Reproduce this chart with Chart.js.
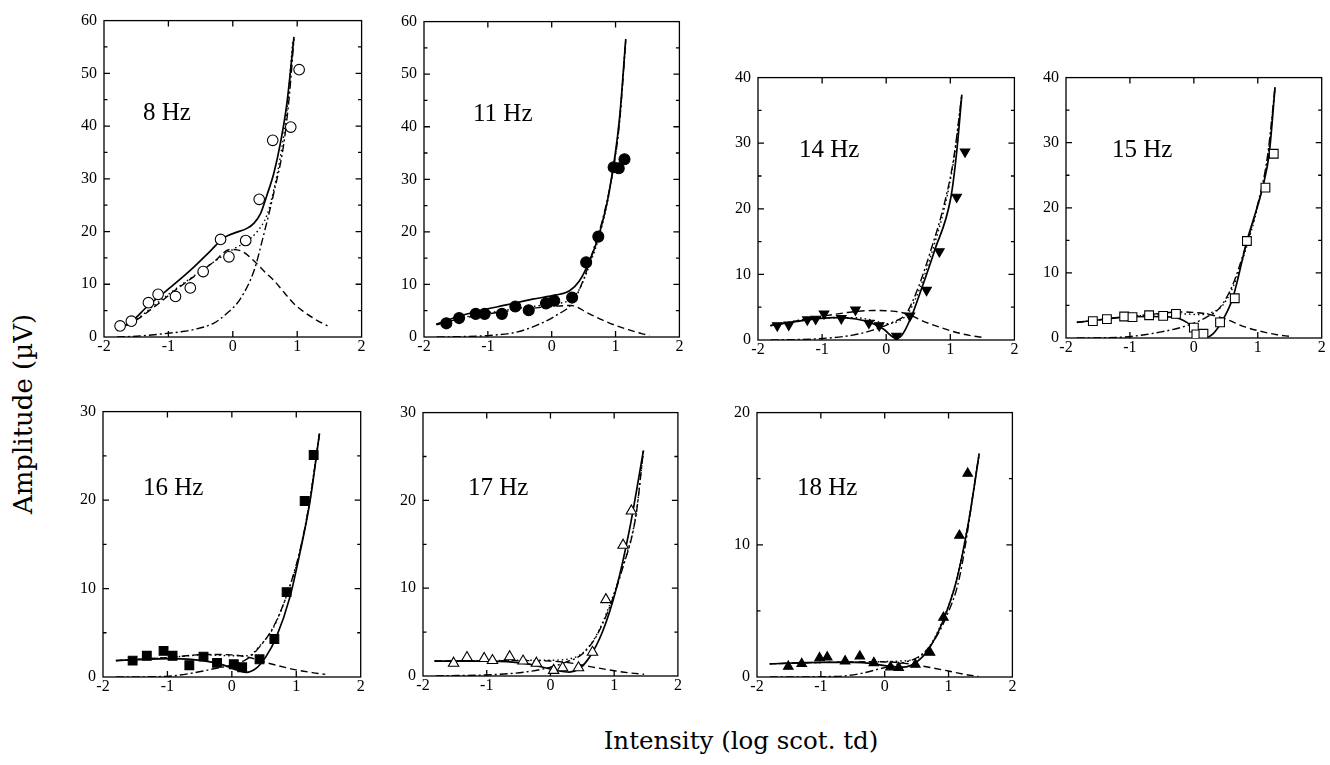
<!DOCTYPE html>
<html>
<head>
<meta charset="utf-8">
<script src="https://cdn.jsdelivr.net/npm/chart.js@4.4.1/dist/chart.umd.min.js"></script>
<style>
  body { margin: 0; width: 1330px; height: 765px; background: #fff; position: relative; overflow: hidden; }
  canvas { position: absolute; }
  .hz { position: absolute; font-family: "Liberation Serif", serif; font-size: 25px; line-height: 25px; white-space: nowrap; color: #000; }
  .axis-title { position: absolute; font-family: "DejaVu Serif", serif; line-height: 1; white-space: nowrap; color: #000; }
</style>
</head>
<body>
<div class="axis-title" id="ytitle" style="font-size:26px; left:23px; top:414px; transform:translate(-50%,-50%) rotate(-90deg);">Amplitude (µV)</div>
<div class="axis-title" id="xtitle" style="font-size:24.5px; left:741px; top:729px; transform:translateX(-50%);">Intensity (log scot. td)</div>

<script>
// x tick labels shared by all panels
const xTicks = [-2, -1, 0, 1, 2];

// ---- 8 Hz ----
const hz8Points = [[-1.75, 2.1], [-1.575, 3.0], [-1.31, 6.5], [-1.16, 8.1], [-0.89, 7.7], [-0.66, 9.3], [-0.46, 12.4], [-0.19, 18.5], [-0.06, 15.2], [0.2, 18.3], [0.41, 26.1], [0.62, 37.3], [0.9, 39.8], [1.03, 50.7]];
const hz8Solid = [[-1.8, 1.2], [-1.575, 2.9], [-1.31, 6.0], [-1.12, 7.9], [-0.89, 10.2], [-0.61, 13.2], [-0.35, 16.3], [-0.14, 18.8], [0.02, 19.7], [0.22, 20.6], [0.33, 21.6], [0.43, 23.4], [0.53, 26.9], [0.64, 31.2], [0.74, 36.8], [0.84, 44.3], [0.95, 56.9]];
const hz8Dotted = [[-1.8, 1.4], [-1.5, 3.3], [-1.2, 6.2], [-0.9, 9.0], [-0.6, 11.6], [-0.3, 14.2], [0.0, 16.6], [0.2, 18.0], [0.38, 20.0], [0.53, 23.1], [0.64, 28.1], [0.74, 34.3], [0.84, 43.0], [0.93, 56.0]];
const hz8Dashed = [[-1.8, 1.3], [-1.5, 3.2], [-1.2, 5.9], [-0.9, 8.8], [-0.6, 11.5], [-0.3, 14.2], [-0.04, 16.6], [0.15, 16.2], [0.33, 14.4], [0.5, 12.3], [0.64, 10.7], [0.8, 8.4], [0.95, 6.3], [1.1, 4.8], [1.26, 3.5], [1.47, 2.1]];
const hz8DashDot = [[-1.8, 0.0], [-1.5, 0.15], [-1.12, 0.56], [-0.8, 1.0], [-0.61, 1.4], [-0.3, 2.6], [-0.09, 4.5], [0.12, 7.3], [0.33, 12.6], [0.48, 19.4], [0.64, 27.5], [0.79, 36.5], [0.88, 46.0], [0.95, 56.5]];

// ---- 11 Hz ----
const hz11Points = [[-1.65, 2.6], [-1.45, 3.6], [-1.19, 4.4], [-1.05, 4.4], [-0.78, 4.4], [-0.57, 5.8], [-0.36, 5.1], [-0.09, 6.4], [0.04, 6.9], [0.32, 7.5], [0.54, 14.2], [0.73, 19.1], [0.97, 32.3], [1.05, 32.1], [1.14, 33.8]];
const hz11Solid = [[-1.81, 2.4], [-1.49, 3.8], [-1.13, 5.0], [-0.71, 6.1], [-0.3, 7.2], [0.07, 8.0], [0.28, 8.8], [0.43, 10.6], [0.59, 14.4], [0.74, 19.4], [0.9, 27.6], [1.06, 41.3], [1.16, 56.7]];
const hz11Dotted = [[-1.8, 2.4], [-1.5, 3.4], [-1.0, 4.6], [-0.5, 5.5], [0.0, 6.3], [0.28, 7.0], [0.43, 9.0], [0.59, 13.6], [0.74, 19.0], [0.9, 27.4], [1.06, 41.0], [1.16, 56.5]];
const hz11Dashed = [[-1.8, 2.3], [-1.5, 3.3], [-1.0, 4.4], [-0.5, 5.2], [0.0, 5.8], [0.3, 6.0], [0.59, 4.4], [0.8, 3.2], [1.0, 2.2], [1.2, 1.4], [1.42, 0.6], [1.53, 0.3]];
const hz11DashDot = [[-1.8, 0.0], [-1.49, 0.05], [-0.97, 0.3], [-0.56, 0.9], [-0.24, 2.2], [0.07, 4.1], [0.33, 6.6], [0.5, 11.0], [0.65, 16.5], [0.8, 22.5], [0.95, 31.0], [1.06, 40.5], [1.16, 56.5]];

// ---- 14 Hz ----
const hz14Points = [[-1.7, 2.2], [-1.52, 2.3], [-1.23, 3.1], [-1.1, 3.2], [-0.97, 4.0], [-0.7, 3.3], [-0.48, 4.6], [-0.27, 2.6], [-0.11, 2.2], [0.16, 0.6], [0.37, 3.7], [0.63, 7.6], [0.83, 13.5], [1.1, 21.8], [1.23, 28.7]];
const hz14Solid = [[-1.81, 2.2], [-1.55, 2.6], [-1.19, 3.1], [-0.83, 3.4], [-0.47, 3.2], [-0.26, 2.7], [-0.05, 1.7], [0.16, 0.25], [0.25, 0.8], [0.39, 3.5], [0.54, 7.5], [0.75, 13.5], [1.01, 21.8], [1.1, 28.7], [1.18, 37.4]];
const hz14Dotted = [[-1.8, 2.2], [-1.0, 3.4], [-0.5, 3.4], [-0.2, 3.0], [0.0, 2.5], [0.2, 2.9], [0.35, 4.2], [0.52, 7.8], [0.72, 13.6], [0.92, 20.6], [1.06, 27.8], [1.18, 37.4]];
const hz14Dashed = [[-1.8, 2.2], [-1.4, 2.9], [-1.0, 3.6], [-0.6, 4.2], [-0.2, 4.5], [0.1, 4.4], [0.31, 4.0], [0.62, 2.7], [0.85, 1.9], [1.04, 1.3], [1.3, 0.7], [1.5, 0.4]];
const hz14DashDot = [[-1.8, 0.0], [-1.04, 0.2], [-0.52, 0.75], [-0.21, 1.5], [0.1, 2.7], [0.31, 4.0], [0.5, 8.0], [0.7, 13.8], [0.9, 20.5], [1.05, 27.5], [1.18, 37.4]];

// ---- 15 Hz ----
const hz15Points = [[-1.58, 2.6], [-1.36, 2.9], [-1.09, 3.3], [-0.96, 3.2], [-0.7, 3.5], [-0.48, 3.4], [-0.28, 3.7], [0.0, 1.6], [0.04, 0.55], [0.15, 0.65], [0.41, 2.4], [0.64, 6.1], [0.83, 14.9], [1.12, 23.1], [1.25, 28.3]];
const hz15Solid = [[-1.83, 2.4], [-1.46, 2.8], [-1.1, 3.2], [-0.69, 3.3], [-0.32, 3.2], [-0.11, 2.4], [0.04, 1.2], [0.2, 0.15], [0.3, 0.65], [0.46, 2.9], [0.61, 6.2], [0.83, 14.9], [1.08, 23.3], [1.18, 28.4], [1.27, 38.5]];
const hz15Dotted = [[-1.83, 2.4], [-1.0, 3.3], [-0.5, 3.6], [-0.2, 3.7], [0.1, 3.6], [0.3, 4.0], [0.45, 5.0], [0.62, 8.0], [0.8, 13.2], [1.0, 20.2], [1.16, 28.0], [1.27, 38.5]];
const hz15Dashed = [[-1.83, 2.4], [-1.4, 2.9], [-1.0, 3.3], [-0.5, 3.8], [-0.25, 4.0], [0.2, 3.7], [0.5, 2.9], [0.8, 1.7], [1.1, 0.9], [1.3, 0.5], [1.5, 0.25]];
const hz15DashDot = [[-1.83, 0.0], [-1.1, 0.15], [-0.53, 0.9], [-0.11, 1.9], [0.2, 3.2], [0.41, 4.7], [0.61, 8.2], [0.77, 12.8], [0.98, 19.8], [1.15, 27.8], [1.27, 38.5]];

// ---- 16 Hz ----
const hz16Points = [[-1.54, 1.85], [-1.32, 2.4], [-1.06, 2.96], [-0.92, 2.4], [-0.66, 1.33], [-0.44, 2.3], [-0.23, 1.6], [0.03, 1.44], [0.16, 1.1], [0.43, 2.0], [0.66, 4.3], [0.85, 9.6], [1.13, 19.9], [1.27, 25.1]];
const hz16Solid = [[-1.8, 1.85], [-1.38, 2.0], [-0.92, 2.07], [-0.45, 1.85], [-0.14, 1.37], [0.07, 0.8], [0.22, 0.52], [0.38, 1.0], [0.53, 2.3], [0.69, 4.5], [0.9, 9.0], [1.05, 13.8], [1.21, 19.7], [1.36, 27.5]];
const hz16Dotted = [[-1.8, 1.85], [-1.0, 2.2], [-0.4, 2.5], [0.0, 2.4], [0.25, 2.4], [0.43, 3.5], [0.64, 5.5], [0.85, 9.2], [1.05, 14.0], [1.2, 19.6], [1.36, 27.5]];
const hz16Dashed = [[-1.8, 1.85], [-1.0, 2.2], [-0.4, 2.55], [0.0, 2.5], [0.27, 2.2], [0.6, 1.5], [1.0, 0.8], [1.25, 0.5], [1.45, 0.3]];
const hz16DashDot = [[-1.8, 0.0], [-1.02, 0.07], [-0.61, 0.45], [-0.3, 0.9], [0.02, 1.4], [0.25, 2.1], [0.43, 3.4], [0.64, 5.6], [0.84, 9.0], [1.05, 14.1], [1.2, 19.5], [1.36, 27.5]];

// ---- 17 Hz ----
const hz17Points = [[-1.52, 1.46], [-1.31, 2.1], [-1.04, 2.0], [-0.91, 1.76], [-0.64, 2.2], [-0.43, 1.7], [-0.22, 1.46], [0.05, 0.64], [0.19, 0.94], [0.44, 0.94], [0.66, 2.7], [0.87, 8.7], [1.14, 14.9], [1.27, 18.8]];
const hz17Solid = [[-1.82, 1.7], [-0.95, 1.7], [-0.43, 1.46], [-0.12, 1.0], [0.09, 0.64], [0.3, 0.45], [0.45, 0.82], [0.61, 2.1], [0.82, 5.1], [1.02, 9.6], [1.23, 16.3], [1.46, 25.7]];
const hz17Dotted = [[-1.8, 1.7], [-1.0, 1.75], [-0.5, 1.8], [0.0, 1.8], [0.25, 1.9], [0.5, 2.6], [0.71, 4.5], [0.92, 7.9], [1.13, 12.4], [1.34, 18.3], [1.46, 25.7]];
const hz17Dashed = [[-1.82, 1.7], [-1.0, 1.75], [-0.5, 1.75], [0.0, 1.7], [0.3, 1.5], [0.6, 1.1], [1.0, 0.6], [1.25, 0.35], [1.47, 0.2]];
const hz17DashDot = [[-1.8, 0.0], [-0.79, 0.2], [-0.33, 0.52], [0.0, 1.0], [0.24, 1.57], [0.5, 2.5], [0.71, 4.4], [0.92, 7.7], [1.13, 12.2], [1.34, 18.2], [1.46, 25.7]];

// ---- 18 Hz ----
const hz18Points = [[-1.51, 0.8], [-1.3, 1.0], [-1.02, 1.44], [-0.9, 1.5], [-0.62, 1.2], [-0.39, 1.57], [-0.17, 1.07], [0.09, 0.75], [0.22, 0.7], [0.48, 0.94], [0.71, 1.86], [0.92, 4.5], [1.17, 10.7], [1.3, 15.4]];
const hz18Solid = [[-1.8, 1.0], [-1.01, 1.1], [-0.49, 1.1], [-0.18, 1.0], [0.08, 0.8], [0.29, 0.75], [0.49, 1.1], [0.7, 2.2], [0.91, 4.2], [1.12, 7.2], [1.32, 11.9], [1.48, 16.9]];
const hz18Dotted = [[-1.8, 1.0], [-1.0, 1.1], [-0.2, 1.15], [0.2, 1.2], [0.5, 1.4], [0.7, 2.3], [0.91, 4.3], [1.12, 7.3], [1.32, 12.0], [1.48, 16.9]];
const hz18Dashed = [[-1.8, 1.0], [-1.0, 1.1], [-0.2, 1.15], [0.2, 1.1], [0.5, 0.9], [1.0, 0.45], [1.25, 0.2], [1.47, 0.05]];
const hz18DashDot = [[-1.8, 0.0], [-0.75, 0.05], [-0.39, 0.25], [-0.08, 0.62], [0.23, 1.0], [0.55, 1.6], [0.75, 2.6], [0.96, 4.5], [1.17, 7.5], [1.48, 16.9]];

// marker looks
const markers = {
  openCircle: { pointStyle: 'circle', radius: 5.3, fill: '#fff', rotation: 0 },
  filledCircle: { pointStyle: 'circle', radius: 5.5, fill: '#000', rotation: 0 },
  downTriangle: { pointStyle: 'triangle', radius: 5.5, fill: '#000', rotation: 180 },
  openSquare: { pointStyle: 'rect', radius: 6.2, fill: '#fff', rotation: 0 },
  filledSquare: { pointStyle: 'rect', radius: 6.2, fill: '#000', rotation: 0 },
  openTriangle: { pointStyle: 'triangle', radius: 6, fill: '#fff', rotation: 0 },
  filledTriangle: { pointStyle: 'triangle', radius: 5.5, fill: '#000', rotation: 0 },
};

const panels = [
  { label: '8 Hz', yMax: 60, marker: 'openCircle', points: hz8Points, solid: hz8Solid, dotted: hz8Dotted, dashed: hz8Dashed, dashDot: hz8DashDot },
  { label: '11 Hz', yMax: 60, marker: 'filledCircle', points: hz11Points, solid: hz11Solid, dotted: hz11Dotted, dashed: hz11Dashed, dashDot: hz11DashDot },
  { label: '14 Hz', yMax: 40, marker: 'downTriangle', points: hz14Points, solid: hz14Solid, dotted: hz14Dotted, dashed: hz14Dashed, dashDot: hz14DashDot },
  { label: '15 Hz', yMax: 40, marker: 'openSquare', points: hz15Points, solid: hz15Solid, dotted: hz15Dotted, dashed: hz15Dashed, dashDot: hz15DashDot },
  { label: '16 Hz', yMax: 30, marker: 'filledSquare', points: hz16Points, solid: hz16Solid, dotted: hz16Dotted, dashed: hz16Dashed, dashDot: hz16DashDot },
  { label: '17 Hz', yMax: 30, marker: 'openTriangle', points: hz17Points, solid: hz17Solid, dotted: hz17Dotted, dashed: hz17Dashed, dashDot: hz17DashDot },
  { label: '18 Hz', yMax: 20, marker: 'filledTriangle', points: hz18Points, solid: hz18Solid, dotted: hz18Dotted, dashed: hz18Dashed, dashDot: hz18DashDot },
];

// plot boxes on the page: left, top, right, bottom; label left + baseline
const boxes = [
  { l: 104, t: 16, r: 362, b: 337, lx: 143, ly: 120 },
  { l: 424, t: 17, r: 680, b: 337, lx: 473, ly: 121 },
  { l: 758, t: 73, r: 1015, b: 340, lx: 799, ly: 157 },
  { l: 1066, t: 73, r: 1323, b: 338, lx: 1112, ly: 157 },
  { l: 103, t: 407, r: 362, b: 677, lx: 143, ly: 495 },
  { l: 423, t: 408, r: 679, b: 676, lx: 468, ly: 495 },
  { l: 757, t: 408, r: 1013, b: 677, lx: 797, ly: 495 },
];

const AX_W = 50, AX_H = 26, PAD_T = 12, PAD_R = 6;
const serif = "'Liberation Serif', 'Times New Roman', serif";

const toXY = (pairs) => pairs.map(([x, y]) => ({ x, y }));

// box around the plot with inward ticks on all four sides
const frame = {
  id: 'frame',
  beforeDatasetsDraw(chart) {
    const { ctx, chartArea: a } = chart;
    const x = chart.scales.x, y = chart.scales.y;
    ctx.save();
    ctx.strokeStyle = '#000';
    ctx.lineWidth = 1.3;
    ctx.strokeRect(a.left, a.top, a.right - a.left, a.bottom - a.top);
    ctx.beginPath();
    xTicks.slice(1, -1).forEach((v) => {
      const px = x.getPixelForValue(v);
      ctx.moveTo(px, a.bottom); ctx.lineTo(px, a.bottom - 6);
      ctx.moveTo(px, a.top); ctx.lineTo(px, a.top + 6);
    });
    for (let v = 5; v < y.max; v += 5) {
      const py = y.getPixelForValue(v);
      const len = v % 10 === 0 ? 6 : 3.5;
      ctx.moveTo(a.left, py); ctx.lineTo(a.left + len, py);
      ctx.moveTo(a.right, py); ctx.lineTo(a.right - len, py);
    }
    ctx.stroke();
    ctx.restore();
  },
};

function curve(data, dash, width) {
  return {
    data: toXY(data),
    showLine: true,
    borderColor: '#000',
    borderWidth: width,
    borderDash: dash,
    pointRadius: 0,
    cubicInterpolationMode: 'monotone',
    fill: false,
  };
}

panels.forEach((p, i) => {
  const box = boxes[i];
  const m = markers[p.marker];
  const canvas = document.createElement('canvas');
  const w = AX_W + (box.r - box.l) + PAD_R;
  const h = PAD_T + (box.b - box.t) + AX_H;
  canvas.width = w;
  canvas.height = h;
  canvas.style.left = (box.l - AX_W) + 'px';
  canvas.style.top = (box.t - PAD_T) + 'px';
  canvas.style.width = w + 'px';
  canvas.style.height = h + 'px';
  document.body.appendChild(canvas);

  const lbl = document.createElement('div');
  lbl.className = 'hz';
  lbl.textContent = p.label;
  lbl.style.left = box.lx + 'px';
  lbl.style.top = (box.ly - 21) + 'px';
  document.body.appendChild(lbl);

  new Chart(canvas.getContext('2d'), {
    type: 'scatter',
    data: {
      datasets: [
        {
          data: toXY(p.points),
          pointStyle: m.pointStyle,
          rotation: m.rotation,
          pointRadius: m.radius,
          pointBackgroundColor: m.fill,
          pointBorderColor: '#000',
          pointBorderWidth: 1.1,
        },
        curve(p.solid, [], 1.7),
        curve(p.dotted, [1.5, 3], 1.4),
        curve(p.dashDot, [8, 3, 2, 3], 1.4),
        curve(p.dashed, [7, 4], 1.4),
      ],
    },
    options: {
      responsive: false,
      animation: false,
      events: [],
      layout: { padding: { top: PAD_T, right: PAD_R, left: 0, bottom: 0 } },
      plugins: { legend: { display: false }, tooltip: { enabled: false } },
      scales: {
        x: {
          type: 'linear',
          min: -2,
          max: 2,
          afterBuildTicks: (s) => { s.ticks = xTicks.map((v) => ({ value: v })); },
          afterFit: (s) => { s.height = AX_H; },
          grid: { display: false, drawTicks: false },
          border: { display: false },
          ticks: { color: '#000', font: { family: serif, size: 16 }, padding: 0, maxRotation: 0, autoSkip: false },
        },
        y: {
          min: 0,
          max: p.yMax,
          afterFit: (s) => { s.width = AX_W; },
          grid: { display: false, drawTicks: false },
          border: { display: false },
          ticks: { stepSize: 10, color: '#000', font: { family: serif, size: 16 }, padding: 7 },
        },
      },
    },
    plugins: [frame],
  });
});
</script>
</body>
</html>
